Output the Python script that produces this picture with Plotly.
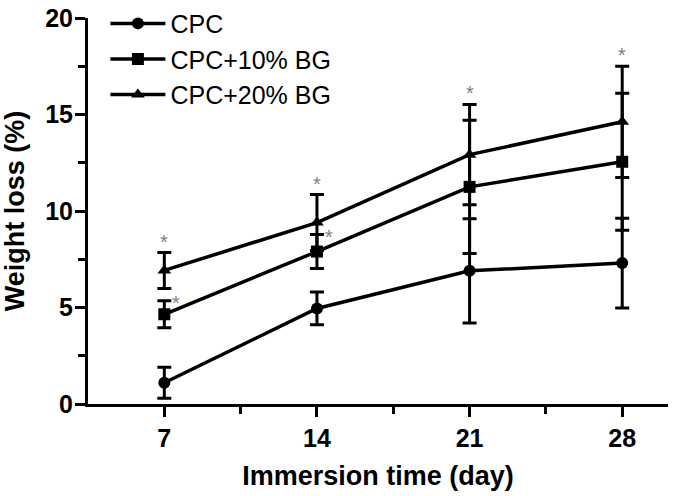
import plotly.graph_objects as go

days = [7, 14, 21, 28]
series_names = ["CPC", "CPC+10% BG", "CPC+20% BG"]
cpc = [1.1, 4.95, 6.9, 7.3]
cpc_err = [0.8, 0.85, 2.7, 2.33]
bg10 = [4.65, 7.9, 11.25, 12.55]
bg10_err = [0.7, 0.88, 3.45, 3.55]
bg20 = [6.92, 9.4, 12.92, 14.62]
bg20_err = [0.93, 1.45, 2.6, 2.88]
star_20 = [True, True, True, True]
star_10 = [True, True, False, False]
x_tick_vals = [7, 14, 21, 28]
x_minor_vals = [10.5, 17.5, 24.5]
y_tick_vals = [0, 5, 10, 15, 20]
y_minor_vals = [2.5, 7.5, 12.5, 17.5]

symbols = ["circle", "square", "triangle-up"]
vals = [cpc, bg10, bg20]
errs = [cpc_err, bg10_err, bg20_err]

fig = go.Figure()
for name, v, e, sym in zip(series_names, vals, errs, symbols):
    fig.add_trace(go.Scatter(
        x=days, y=v, name=name, mode="lines+markers",
        line=dict(color="black", width=3.5),
        marker=dict(symbol=sym, size=12, color="black"),
        error_y=dict(type="data", array=e, visible=True, color="black",
                     thickness=3, width=7),
        cliponaxis=False,
    ))

star_font = dict(family="Arial", size=20, color="#808080")
for d, v, e, s in zip(days, bg20, bg20_err, star_20):
    if s:
        fig.add_annotation(x=d, y=v + e, text="*", showarrow=False,
                           yanchor="bottom", yshift=-2, font=star_font)
for d, v, e, s in zip(days, bg10, bg10_err, star_10):
    if s:
        fig.add_annotation(x=d, y=v + e, text="*", showarrow=False,
                           yanchor="middle", xshift=12, yshift=-2, font=star_font)

axis_common = dict(
    showline=True, linecolor="black", linewidth=3,
    ticks="outside", tickcolor="black", tickwidth=3, ticklen=10,
    showgrid=False, zeroline=False,
    tickfont=dict(family="Arial", size=25, color="black"),
)
fig.update_xaxes(
    range=[3.5, 30.1], tickvals=x_tick_vals,
    ticktext=["<b>%d</b>" % t for t in x_tick_vals],
    minor=dict(tickvals=x_minor_vals, ticks="outside", ticklen=7, tickwidth=3, tickcolor="black"),
    title=dict(text="<b>Immersion time (day)</b>", standoff=16,
               font=dict(family="Arial", size=27, color="black")),
    **axis_common,
)
fig.update_yaxes(
    range=[0, 20], tickvals=y_tick_vals,
    ticktext=["<b>%d</b>" % t for t in y_tick_vals],
    ticklabelstandoff=-3,
    minor=dict(tickvals=y_minor_vals, ticks="outside", ticklen=7, tickwidth=3, tickcolor="black"),
    title=dict(text="<b>Weight loss (%)</b>", standoff=13,
               font=dict(family="Arial", size=27, color="black")),
    **axis_common,
)
fig.update_layout(
    width=674, height=496,
    margin=dict(l=88, r=6, t=18, b=92, autoexpand=False),
    paper_bgcolor="white", plot_bgcolor="white",
    showlegend=True,
    legend=dict(x=0.03, y=1.045, xanchor="left", yanchor="top",
                font=dict(family="Arial", size=25, color="black"),
                bgcolor="rgba(0,0,0,0)", tracegroupgap=0, itemwidth=55),
)
fig.write_html("out.html", config={"displayModeBar": False},
               post_script="document.body.style.margin='0';")
